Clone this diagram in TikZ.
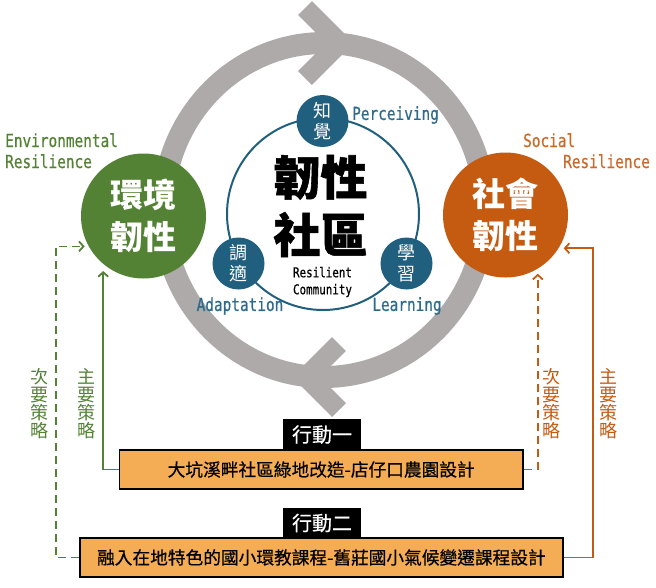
\documentclass[tikz,border=0pt]{standalone}
\usepackage{fontspec}
\newfontfamily\cjk{Noto Sans CJK TC}
\newfontfamily\cjkmed{Noto Sans CJK TC}[FakeBold=0.5]
\newfontfamily\cjkheavy{Noto Sans CJK TC}[BoldFeatures={FakeBold=1.2}]
\newfontfamily\mono{DejaVu Sans Mono}[FakeStretch=0.8, FakeBold=0.6]
\usetikzlibrary{arrows.meta}
\definecolor{envgreen}{HTML}{548235}
\definecolor{socorange}{HTML}{C55A11}
\definecolor{tealc}{HTML}{215F7F}
\definecolor{tealtext}{HTML}{2C6B8B}
\definecolor{ringgray}{HTML}{AEAAAA}
\definecolor{boxfill}{HTML}{F4AC55}
\begin{document}
\begin{tikzpicture}[x=1pt,y=-1pt,
  bigcirc/.style={circle, minimum size=125pt, inner sep=0pt, text=white, align=center,
    font=\cjk\bfseries\fontsize{33}{42}\selectfont},
  smallc/.style={circle, fill=tealc, minimum size=52pt, inner sep=0pt, text=white, align=center,
    font=\cjk\fontsize{18}{21}\selectfont},
  tealtxt/.style={text=tealtext, font=\mono\fontsize{18}{21}\selectfont, inner sep=0pt},
  engtxt/.style={font=\mono\fontsize{18}{21}\selectfont, inner sep=0pt, align=left},
  actbox/.style={draw=black, line width=1.6pt, fill=boxfill, minimum height=39pt, inner sep=0pt,
    font=\cjkmed\fontsize{17.7}{20}\selectfont},
  acttag/.style={fill=black, text=white, minimum width=78pt, minimum height=31pt, inner sep=0pt,
    font=\cjkmed\fontsize{20}{22}\selectfont},
  vlabel/.style={align=center, inner sep=0pt, font=\cjk\fontsize{18}{18}\selectfont},
  conn/.style={line width=1.8pt, -{Straight Barb[length=4.5pt,width=10pt]}},
  dashconn/.style={conn, dash pattern=on 8pt off 5pt}
]
\useasboundingbox (0,0) rectangle (656,587);

% ring with chevrons
\draw[ringgray, line width=22pt] (324,210) ellipse [x radius=161pt, y radius=167pt];
\draw[ringgray, line width=19.5pt, line join=miter, line cap=butt] (305,8) -- (340,43) -- (305,78);
\draw[ringgray, line width=19.5pt, line join=miter, line cap=butt] (339,344) -- (306,377) -- (339,410);

% main circles
\node[bigcirc, fill=envgreen] (env) at (143.5,216) {環境\\韌性};
\node[bigcirc, fill=socorange] (soc) at (505.5,215) {社會\\韌性};

% core
\node[circle, draw=tealc, line width=2pt, fill=white, minimum size=192pt, inner sep=0pt] (core) at (323,214) {};
\node[smallc] (perc) at (322.5,121) {知\\覺};
\node[smallc] (adap) at (238.5,263.5) {調\\適};
\node[smallc] (learn) at (406.5,263.5) {學\\習};
\node[tealtxt, anchor=west] (percl) at (352,115) {Perceiving};
\node[tealtxt] (adapl) at (240,306) {Adaptation};
\node[tealtxt] (learnl) at (407,306) {Learning};
\node[align=center, inner sep=0pt, font=\cjkheavy\bfseries\fontsize{47}{57.5}\selectfont] (title) at (320.5,206) {韌性\\社區};
\node[align=center, inner sep=0pt, font=\mono\fontsize{13.6}{17}\selectfont] (sub) at (322.5,282) {Resilient\\Community};

% english labels
\node[engtxt, text=envgreen, anchor=base west] (envl) at (5,168) {Environmental\\Resilience};
\node[engtxt, text=socorange!90!white, anchor=base west] (socl) at (523,168) {Social\\\hspace*{40pt}Resilience};

% action boxes
\node[actbox, minimum width=403.7pt] (box1) at (321.2,469.5) {大坑溪畔社區綠地改造-店仔口農園設計};
\node[acttag] (tag1) at (322,434.5) {行動一};
\node[actbox, minimum width=482.7pt] (box2) at (321.4,557.5) {融入在地特色的國小環教課程-舊莊國小氣候變遷課程設計};
\node[acttag] (tag2) at (322,523) {行動二};

% strategy labels
\node[vlabel, text=envgreen] (gsec) at (39.7,404) {次\\要\\策\\略};
\node[vlabel, text=envgreen] (gpri) at (86.6,404) {主\\要\\策\\略};
\node[vlabel, text=socorange] (osec) at (551.5,404) {次\\要\\策\\略};
\node[vlabel, text=socorange] (opri) at (608.8,404) {主\\要\\策\\略};

% connectors
\coordinate (gdash) at (55.6,0);
\coordinate (osolid) at (593,0);
\draw[conn, envgreen, shorten >=7pt] (box1.west) -| (env.230);
\draw[dashconn, envgreen, shorten >=4pt] (box2.west) -| (gdash |- env.209.5) -- (env.209.5);
\draw[conn, socorange, shorten >=5pt] (box2.east) -| (osolid |- soc.328.1) -- (soc.328.1);
\draw[dashconn, socorange, shorten >=5pt] (box1.east) -| (soc.301.7);
\end{tikzpicture}
\end{document}
